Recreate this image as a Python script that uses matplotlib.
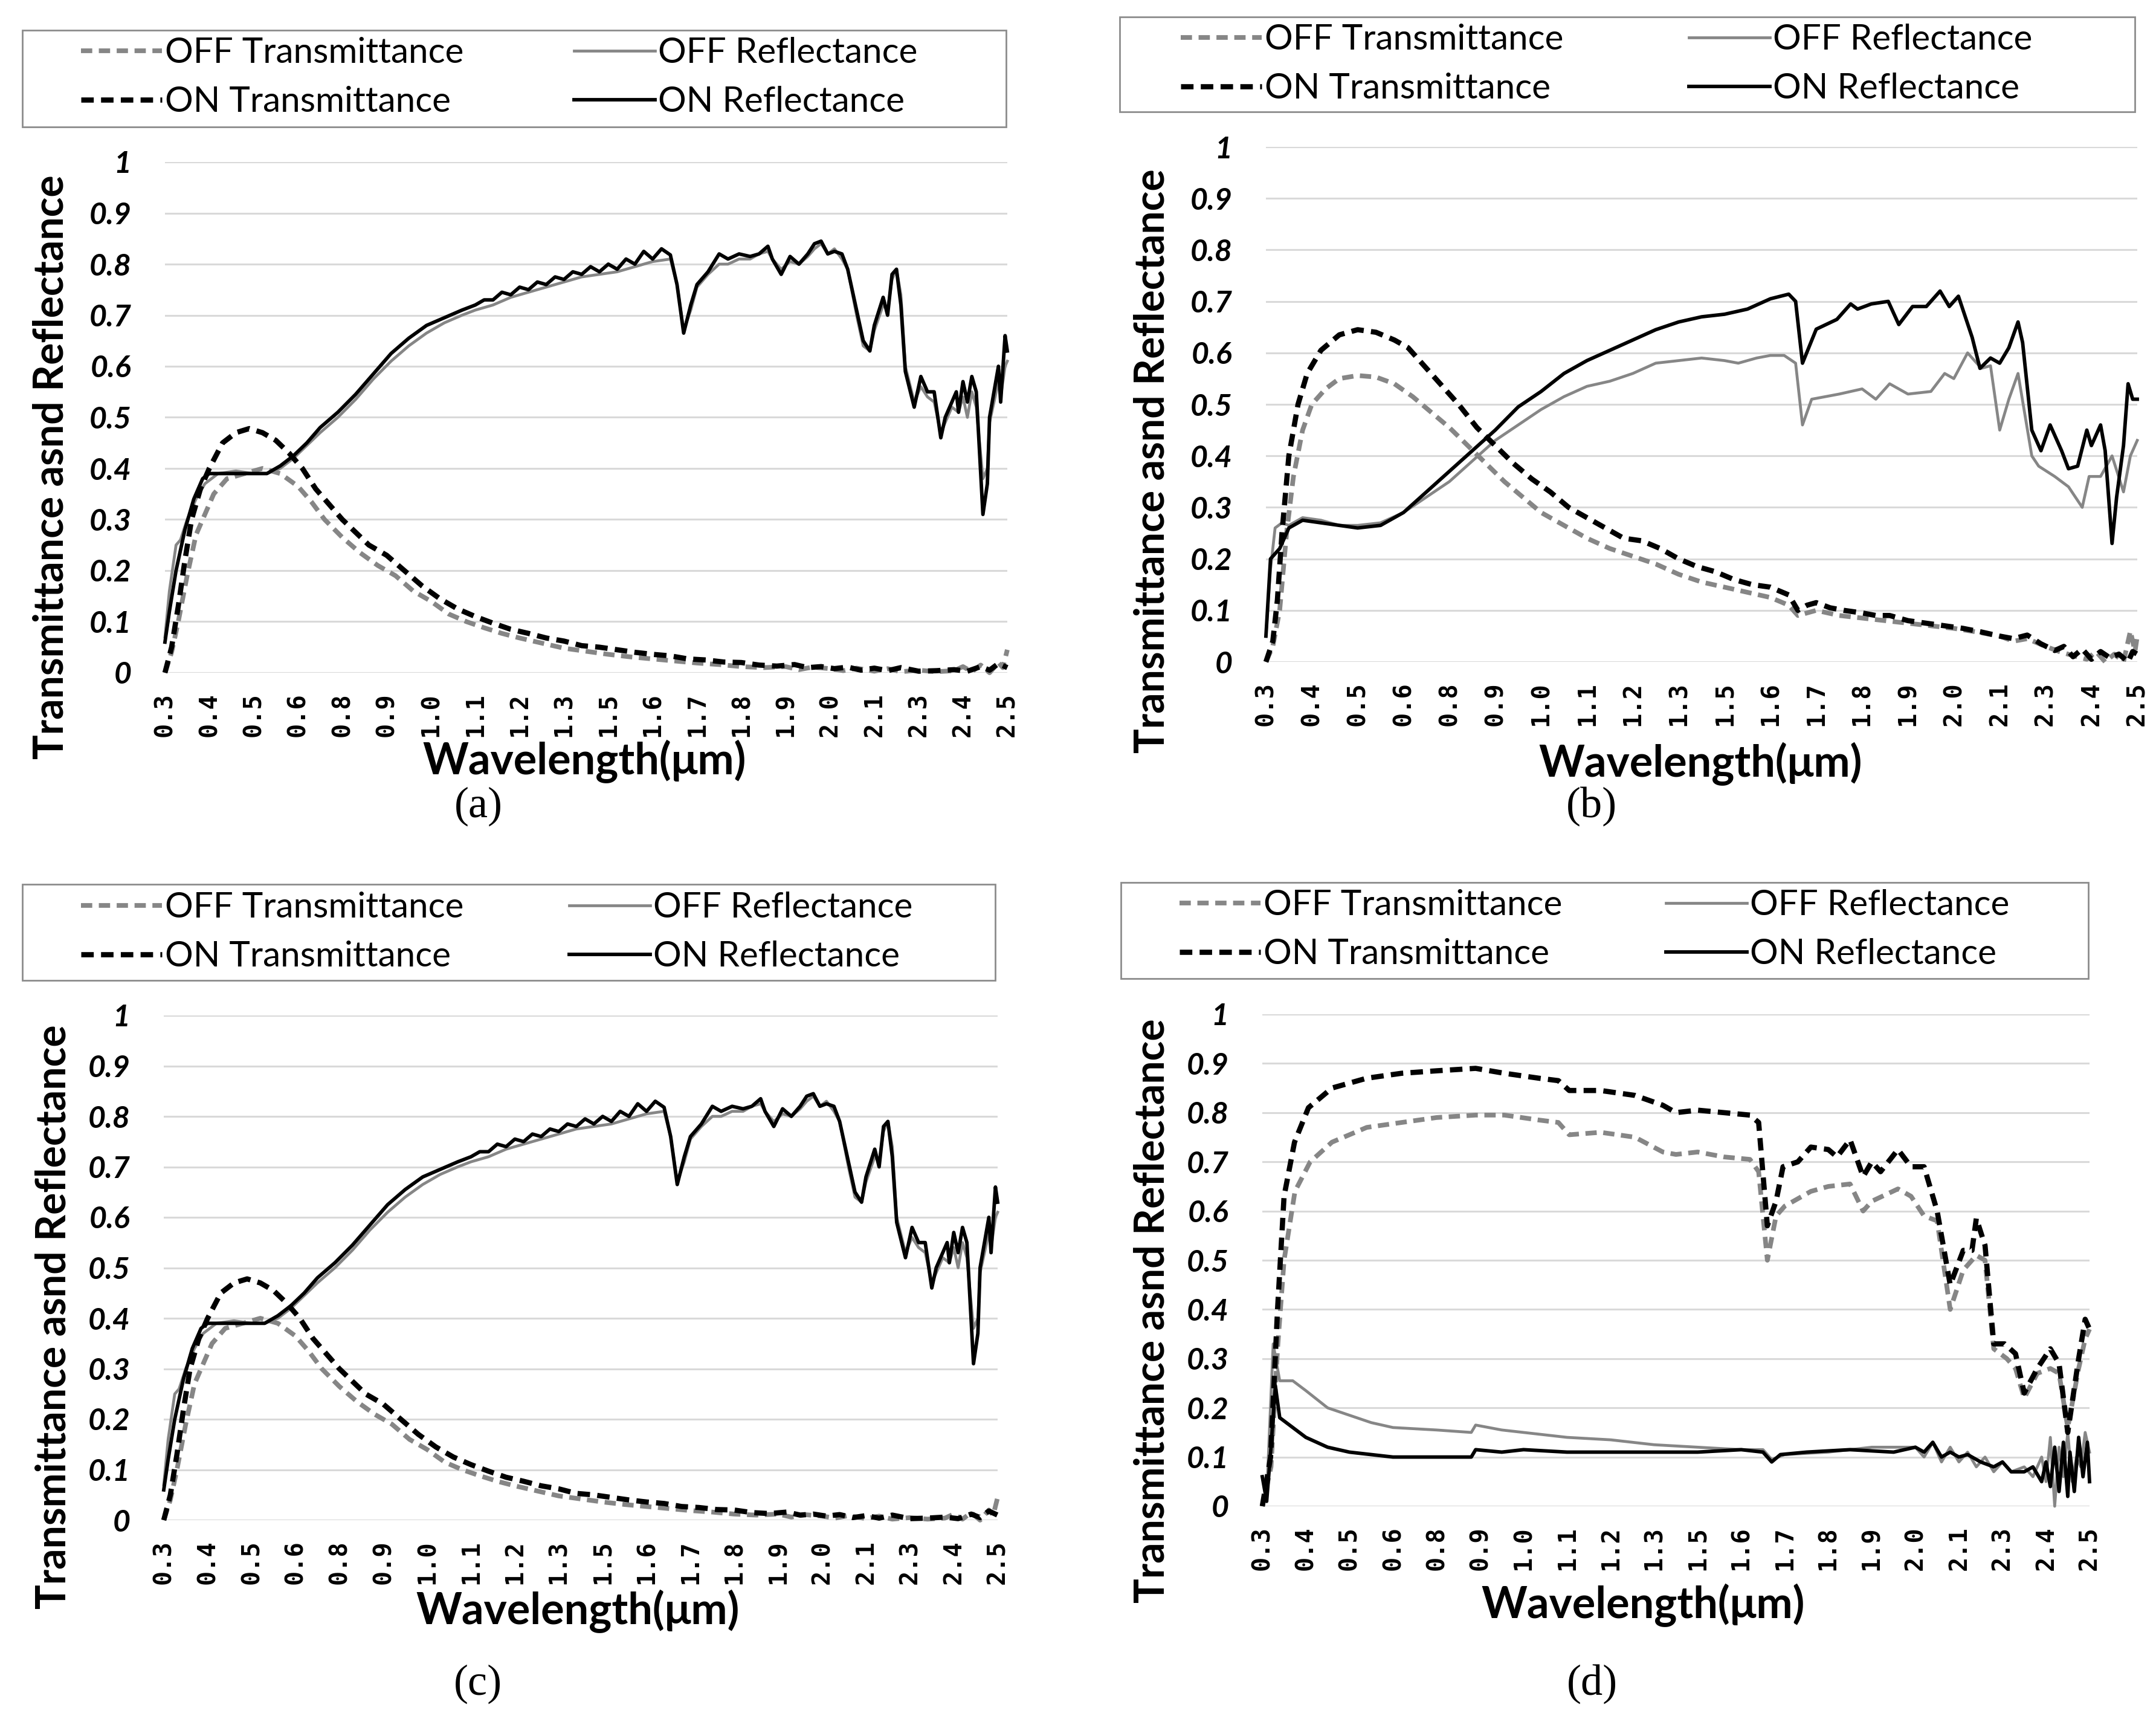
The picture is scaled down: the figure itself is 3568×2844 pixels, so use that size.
import numpy as np
import matplotlib.pyplot as plt
from matplotlib.patches import Rectangle

W, H = 3568, 2844

# category axis (Excel style): labels sit at equally spaced positions 0..19
x_labels = ['0.3', '0.4', '0.5', '0.6', '0.8', '0.9', '1.0', '1.1', '1.2', '1.3',
            '1.5', '1.6', '1.7', '1.8', '1.9', '2.0', '2.1', '2.3', '2.4', '2.5']
y_ticks = [0, 0.1, 0.2, 0.3, 0.4, 0.5, 0.6, 0.7, 0.8, 0.9, 1]
y_labels = ['0', '0.1', '0.2', '0.3', '0.4', '0.5', '0.6', '0.7', '0.8', '0.9', '1']
series_names = ['OFF Transmittance', 'OFF Reflectance', 'ON Transmittance', 'ON Reflectance']

# panel (a) / (c): (position on category axis, value)
a_off_t = [(0, 0.0), (0.15, 0.04), (0.3, 0.10), (0.5, 0.19), (0.7, 0.27), (0.9, 0.31), (1.1, 0.35),
           (1.4, 0.38), (1.8, 0.39), (2.2, 0.40), (2.6, 0.39), (3.0, 0.365), (3.3, 0.335), (3.6, 0.30),
           (4.0, 0.265), (4.4, 0.235), (4.8, 0.21), (5.2, 0.19), (5.6, 0.16), (6.0, 0.14), (6.4, 0.115),
           (6.8, 0.10), (7.2, 0.088), (7.6, 0.077), (8.0, 0.068), (8.5, 0.058), (9.0, 0.048),
           (9.5, 0.042), (10.0, 0.036), (10.5, 0.031), (11.0, 0.027), (11.5, 0.023), (12.0, 0.019),
           (12.5, 0.016), (13.0, 0.012), (13.5, 0.01), (14.0, 0.012), (14.3, 0.006), (14.6, 0.011),
           (15.0, 0.008), (15.3, 0.004), (15.6, 0.009), (16.0, 0.003), (16.3, 0.008), (16.6, 0.002),
           (17.0, 0.005), (17.4, 0.002), (17.8, 0.004), (18.0, 0.012), (18.2, 0.002), (18.4, 0.015),
           (18.6, 0.0), (18.8, 0.02), (18.9, 0.01), (19.0, 0.045)]
a_on_t = [(0, 0.0), (0.15, 0.05), (0.3, 0.13), (0.45, 0.22), (0.6, 0.30), (0.8, 0.36), (1.0, 0.40),
          (1.3, 0.45), (1.6, 0.47), (1.9, 0.478), (2.2, 0.47), (2.5, 0.455), (2.8, 0.43), (3.1, 0.40),
          (3.4, 0.36), (3.7, 0.33), (4.0, 0.30), (4.3, 0.275), (4.6, 0.25), (5.0, 0.23), (5.4, 0.20),
          (5.8, 0.17), (6.2, 0.145), (6.6, 0.125), (7.0, 0.11), (7.4, 0.097), (7.8, 0.085),
          (8.2, 0.077), (8.6, 0.068), (9.0, 0.062), (9.4, 0.053), (9.8, 0.05), (10.2, 0.045),
          (10.6, 0.04), (11.0, 0.036), (11.4, 0.033), (11.8, 0.027), (12.2, 0.025), (12.6, 0.021),
          (13.0, 0.02), (13.4, 0.015), (13.8, 0.013), (14.2, 0.016), (14.5, 0.01), (14.8, 0.012),
          (15.1, 0.008), (15.4, 0.011), (15.7, 0.005), (16.0, 0.009), (16.3, 0.004), (16.6, 0.01),
          (17.0, 0.003), (17.4, 0.004), (17.8, 0.006), (18.1, 0.003), (18.4, 0.012), (18.6, 0.005),
          (18.8, 0.018), (19.0, 0.01)]
a_off_r = [(0, 0.07), (0.1, 0.16), (0.25, 0.25), (0.35, 0.26), (0.5, 0.30), (0.7, 0.34), (0.9, 0.37),
           (1.2, 0.39), (1.6, 0.395), (2.0, 0.39), (2.3, 0.39), (2.6, 0.40), (2.9, 0.42), (3.2, 0.445),
           (3.5, 0.47), (3.9, 0.50), (4.3, 0.535), (4.7, 0.575), (5.1, 0.61), (5.5, 0.64), (5.9, 0.665),
           (6.3, 0.685), (6.7, 0.70), (7.0, 0.71), (7.4, 0.72), (7.8, 0.735), (8.2, 0.745), (8.6, 0.755),
           (9.0, 0.765), (9.4, 0.775), (9.8, 0.78), (10.2, 0.785), (10.6, 0.795), (11.0, 0.805),
           (11.4, 0.81), (11.55, 0.76), (11.7, 0.67), (11.86, 0.71), (12.0, 0.755), (12.25, 0.78),
           (12.5, 0.80), (12.7, 0.80), (12.95, 0.81), (13.2, 0.81), (13.4, 0.82), (13.6, 0.825),
           (13.7, 0.81), (13.9, 0.79), (14.1, 0.805), (14.3, 0.80), (14.5, 0.815), (14.65, 0.83),
           (14.8, 0.84), (14.95, 0.82), (15.1, 0.83), (15.27, 0.81), (15.4, 0.79), (15.6, 0.70),
           (15.75, 0.64), (15.9, 0.63), (16.0, 0.67), (16.2, 0.72), (16.3, 0.71), (16.4, 0.77),
           (16.5, 0.79), (16.6, 0.74), (16.7, 0.60), (16.9, 0.53), (17.05, 0.56), (17.2, 0.54),
           (17.35, 0.53), (17.5, 0.47), (17.6, 0.49), (17.75, 0.52), (17.9, 0.51), (18.0, 0.54),
           (18.1, 0.50), (18.2, 0.55), (18.3, 0.52), (18.45, 0.38), (18.55, 0.40), (18.6, 0.49),
           (18.8, 0.57), (18.85, 0.54), (18.95, 0.60), (19.0, 0.61)]
a_on_r = [(0, 0.06), (0.1, 0.12), (0.25, 0.20), (0.45, 0.28), (0.65, 0.34), (0.85, 0.38), (1.0, 0.39),
          (1.5, 0.39), (2.0, 0.39), (2.3, 0.39), (2.6, 0.405), (2.9, 0.425), (3.2, 0.45), (3.5, 0.48),
          (3.9, 0.51), (4.3, 0.545), (4.7, 0.585), (5.1, 0.625), (5.5, 0.655), (5.9, 0.68), (6.3, 0.695),
          (6.7, 0.71), (7.0, 0.72), (7.2, 0.73), (7.4, 0.73), (7.6, 0.745), (7.8, 0.74), (8.0, 0.755),
          (8.2, 0.75), (8.4, 0.765), (8.6, 0.76), (8.8, 0.775), (9.0, 0.77), (9.2, 0.785), (9.4, 0.78),
          (9.6, 0.795), (9.8, 0.785), (10.0, 0.80), (10.2, 0.79), (10.4, 0.81), (10.6, 0.80),
          (10.8, 0.825), (11.0, 0.81), (11.2, 0.83), (11.4, 0.818), (11.55, 0.76), (11.7, 0.665),
          (11.86, 0.72), (12.0, 0.76), (12.25, 0.785), (12.5, 0.82), (12.7, 0.81), (12.95, 0.82),
          (13.2, 0.815), (13.4, 0.82), (13.6, 0.835), (13.7, 0.81), (13.9, 0.78), (14.1, 0.815),
          (14.3, 0.80), (14.5, 0.82), (14.65, 0.84), (14.8, 0.845), (14.95, 0.82), (15.1, 0.825),
          (15.27, 0.82), (15.4, 0.79), (15.6, 0.71), (15.75, 0.65), (15.9, 0.63), (16.0, 0.68),
          (16.2, 0.735), (16.3, 0.70), (16.4, 0.78), (16.5, 0.79), (16.6, 0.72), (16.7, 0.59),
          (16.9, 0.52), (17.05, 0.58), (17.2, 0.55), (17.35, 0.55), (17.5, 0.46), (17.6, 0.50),
          (17.75, 0.53), (17.85, 0.55), (17.9, 0.51), (18.0, 0.57), (18.1, 0.53), (18.2, 0.58),
          (18.3, 0.55), (18.45, 0.31), (18.55, 0.37), (18.6, 0.50), (18.8, 0.60), (18.85, 0.53),
          (18.95, 0.66), (19.0, 0.63)]

# panel (b)
b_off_t = [(0, 0.0), (0.15, 0.03), (0.3, 0.10), (0.45, 0.25), (0.6, 0.36), (0.8, 0.45), (1.0, 0.50),
           (1.3, 0.53), (1.6, 0.55), (2.0, 0.556), (2.4, 0.553), (2.8, 0.54), (3.2, 0.515), (3.6, 0.485),
           (4.0, 0.455), (4.4, 0.42), (4.8, 0.385), (5.2, 0.35), (5.6, 0.32), (6.0, 0.29), (6.5, 0.265),
           (7.0, 0.24), (7.5, 0.22), (8.0, 0.205), (8.5, 0.19), (9.0, 0.17), (9.5, 0.155), (10.0, 0.145),
           (10.5, 0.135), (11.0, 0.125), (11.4, 0.11), (11.6, 0.09), (11.8, 0.095), (12.0, 0.10),
           (12.5, 0.09), (13.0, 0.085), (13.5, 0.08), (14.0, 0.075), (14.5, 0.07), (15.0, 0.065),
           (15.5, 0.058), (16.0, 0.05), (16.3, 0.04), (16.6, 0.045), (17.0, 0.03), (17.3, 0.02),
           (17.6, 0.012), (17.9, 0.005), (18.1, 0.02), (18.3, 0.0), (18.5, 0.015), (18.7, 0.0),
           (18.85, 0.06), (18.95, 0.02), (19.0, 0.05)]
b_on_t = [(0, 0.0), (0.15, 0.04), (0.25, 0.12), (0.35, 0.25), (0.5, 0.40), (0.7, 0.50), (0.9, 0.56),
          (1.2, 0.605), (1.6, 0.635), (2.0, 0.645), (2.4, 0.64), (2.8, 0.625), (3.1, 0.61), (3.4, 0.58),
          (3.8, 0.54), (4.2, 0.50), (4.6, 0.455), (5.0, 0.42), (5.4, 0.385), (5.8, 0.355), (6.2, 0.33),
          (6.6, 0.30), (7.0, 0.28), (7.4, 0.26), (7.8, 0.24), (8.2, 0.235), (8.6, 0.22), (9.0, 0.20),
          (9.4, 0.185), (9.8, 0.175), (10.2, 0.16), (10.6, 0.15), (11.0, 0.145), (11.4, 0.13),
          (11.6, 0.10), (11.8, 0.11), (12.0, 0.115), (12.3, 0.105), (12.6, 0.10), (13.0, 0.095),
          (13.3, 0.09), (13.6, 0.09), (14.0, 0.08), (14.4, 0.075), (14.8, 0.07), (15.2, 0.065),
          (15.6, 0.058), (16.0, 0.05), (16.3, 0.045), (16.6, 0.052), (16.9, 0.035), (17.2, 0.022),
          (17.4, 0.03), (17.6, 0.01), (17.8, 0.025), (18.0, 0.005), (18.2, 0.02), (18.4, 0.008),
          (18.6, 0.015), (18.8, 0.0), (18.9, 0.02), (19.0, 0.015)]
b_off_r = [(0, 0.05), (0.1, 0.18), (0.2, 0.26), (0.35, 0.27), (0.5, 0.265), (0.8, 0.28), (1.2, 0.275),
           (1.6, 0.265), (2.0, 0.265), (2.5, 0.27), (3.0, 0.29), (3.5, 0.32), (4.0, 0.35), (4.5, 0.39),
           (5.0, 0.43), (5.5, 0.46), (6.0, 0.49), (6.5, 0.515), (7.0, 0.535), (7.5, 0.545), (8.0, 0.56),
           (8.5, 0.58), (9.0, 0.585), (9.5, 0.59), (10.0, 0.585), (10.3, 0.58), (10.7, 0.59),
           (11.0, 0.595), (11.3, 0.595), (11.55, 0.58), (11.7, 0.46), (11.9, 0.51), (12.5, 0.52),
           (13.0, 0.53), (13.3, 0.51), (13.6, 0.54), (14.0, 0.52), (14.5, 0.525), (14.8, 0.56),
           (15.0, 0.55), (15.3, 0.60), (15.6, 0.57), (15.8, 0.575), (16.0, 0.45), (16.2, 0.51),
           (16.4, 0.56), (16.7, 0.40), (16.85, 0.38), (17.2, 0.36), (17.5, 0.34), (17.8, 0.30),
           (17.95, 0.36), (18.2, 0.36), (18.45, 0.40), (18.7, 0.33), (18.85, 0.40), (19.0, 0.43)]
b_on_r = [(0, 0.05), (0.1, 0.20), (0.3, 0.22), (0.5, 0.26), (0.8, 0.275), (1.2, 0.27), (1.6, 0.265),
          (2.0, 0.26), (2.5, 0.265), (3.0, 0.29), (3.5, 0.33), (4.0, 0.37), (4.5, 0.41), (5.0, 0.45),
          (5.5, 0.495), (6.0, 0.525), (6.5, 0.56), (7.0, 0.585), (7.5, 0.605), (8.0, 0.625),
          (8.5, 0.645), (9.0, 0.66), (9.5, 0.67), (10.0, 0.675), (10.5, 0.685), (11.0, 0.705),
          (11.4, 0.714), (11.55, 0.70), (11.7, 0.58), (12.0, 0.646), (12.45, 0.665), (12.75, 0.695),
          (12.9, 0.685), (13.2, 0.695), (13.57, 0.70), (13.8, 0.655), (14.1, 0.69), (14.4, 0.69),
          (14.7, 0.72), (14.9, 0.69), (15.1, 0.71), (15.4, 0.63), (15.57, 0.57), (15.8, 0.59),
          (16.0, 0.58), (16.2, 0.61), (16.4, 0.66), (16.5, 0.62), (16.7, 0.45), (16.9, 0.41),
          (17.1, 0.46), (17.35, 0.41), (17.5, 0.375), (17.7, 0.38), (17.9, 0.45), (18.0, 0.42),
          (18.2, 0.46), (18.3, 0.41), (18.45, 0.23), (18.55, 0.32), (18.7, 0.42), (18.8, 0.54),
          (18.9, 0.51), (19.0, 0.51)]

# panel (d)
d_off_t = [(0, 0.0), (0.2, 0.08), (0.35, 0.32), (0.5, 0.50), (0.75, 0.64), (1.1, 0.70), (1.6, 0.74),
           (2.4, 0.77), (3.2, 0.78), (4.0, 0.79), (4.9, 0.795), (5.56, 0.795), (6.35, 0.785), (6.8, 0.78),
           (7.05, 0.755), (7.77, 0.76), (8.56, 0.75), (9.2, 0.72), (9.5, 0.715), (10.0, 0.72),
           (10.6, 0.71), (11.2, 0.705), (11.4, 0.68), (11.6, 0.50), (11.8, 0.59), (12.0, 0.61),
           (12.6, 0.64), (13.0, 0.65), (13.5, 0.655), (13.8, 0.60), (14.0, 0.62), (14.6, 0.645),
           (14.9, 0.63), (15.2, 0.59), (15.5, 0.58), (15.8, 0.40), (16.1, 0.48), (16.4, 0.51),
           (16.6, 0.50), (16.8, 0.32), (17.1, 0.30), (17.3, 0.28), (17.5, 0.22), (17.8, 0.27),
           (18.1, 0.28), (18.3, 0.27), (18.5, 0.16), (18.75, 0.28), (18.9, 0.34), (19.0, 0.36)]
d_on_t = [(0, 0.0), (0.19, 0.10), (0.35, 0.40), (0.5, 0.63), (0.74, 0.74), (1.06, 0.81), (1.6, 0.85),
          (2.4, 0.87), (3.2, 0.88), (4.0, 0.885), (4.9, 0.89), (5.56, 0.88), (6.35, 0.87), (6.8, 0.865),
          (7.05, 0.845), (7.77, 0.845), (8.56, 0.835), (9.2, 0.815), (9.5, 0.80), (10.0, 0.805),
          (10.6, 0.80), (11.2, 0.795), (11.4, 0.78), (11.6, 0.57), (11.8, 0.62), (11.96, 0.69),
          (12.3, 0.70), (12.6, 0.73), (13.0, 0.725), (13.2, 0.71), (13.5, 0.745), (13.8, 0.67),
          (14.0, 0.70), (14.2, 0.68), (14.6, 0.725), (14.9, 0.69), (15.2, 0.69), (15.5, 0.60),
          (15.8, 0.45), (16.1, 0.52), (16.3, 0.52), (16.4, 0.585), (16.6, 0.53), (16.8, 0.33),
          (17.05, 0.33), (17.3, 0.31), (17.5, 0.23), (17.8, 0.28), (18.1, 0.32), (18.3, 0.29),
          (18.5, 0.15), (18.75, 0.30), (18.9, 0.38), (19.0, 0.36)]
d_off_r = [(0, 0.06), (0.1, 0.02), (0.25, 0.33), (0.4, 0.255), (0.7, 0.255), (1.0, 0.235), (1.5, 0.20),
           (2.0, 0.185), (2.5, 0.17), (3.0, 0.16), (4.0, 0.155), (4.8, 0.15), (4.9, 0.165), (5.5, 0.155),
           (6.0, 0.15), (7.0, 0.14), (8.0, 0.135), (9.0, 0.125), (10.0, 0.12), (11.0, 0.115),
           (11.5, 0.115), (11.7, 0.095), (12.0, 0.105), (13.0, 0.11), (14.0, 0.12), (15.0, 0.12),
           (15.2, 0.10), (15.4, 0.13), (15.6, 0.09), (15.8, 0.12), (16.0, 0.09), (16.2, 0.11),
           (16.4, 0.08), (16.6, 0.10), (16.8, 0.07), (17.0, 0.09), (17.2, 0.07), (17.5, 0.08),
           (17.7, 0.06), (17.9, 0.10), (18.0, 0.05), (18.1, 0.14), (18.2, 0.0), (18.3, 0.12),
           (18.4, 0.06), (18.5, 0.15), (18.6, 0.05), (18.7, 0.10), (18.8, 0.08), (18.9, 0.15),
           (19.0, 0.11)]
d_on_r = [(0, 0.06), (0.1, 0.01), (0.2, 0.12), (0.3, 0.245), (0.4, 0.18), (0.7, 0.16), (1.0, 0.14),
          (1.5, 0.12), (2.0, 0.11), (2.5, 0.105), (3.0, 0.10), (4.0, 0.10), (4.8, 0.10), (4.9, 0.115),
          (5.5, 0.11), (6.0, 0.115), (7.0, 0.11), (8.0, 0.11), (9.0, 0.11), (10.0, 0.11), (11.0, 0.115),
          (11.5, 0.11), (11.7, 0.09), (11.9, 0.105), (12.5, 0.11), (13.5, 0.115), (14.5, 0.11),
          (15.0, 0.12), (15.2, 0.11), (15.4, 0.13), (15.6, 0.10), (15.8, 0.11), (16.0, 0.10),
          (16.2, 0.105), (16.5, 0.09), (16.8, 0.08), (17.0, 0.09), (17.2, 0.07), (17.5, 0.07),
          (17.7, 0.08), (17.9, 0.05), (18.0, 0.09), (18.1, 0.04), (18.2, 0.12), (18.3, 0.03),
          (18.4, 0.13), (18.5, 0.02), (18.55, 0.11), (18.65, 0.03), (18.75, 0.14), (18.85, 0.06),
          (18.95, 0.13), (19.0, 0.05)]

GRAY = '#868686'
styles = [
    dict(color=GRAY, lw=2.8, ls=(0, (2.4, 1.4))),     # OFF Transmittance
    dict(color=GRAY, lw=1.7, ls='-'),                 # OFF Reflectance
    dict(color='black', lw=3.1, ls=(0, (2.4, 1.4))),  # ON Transmittance
    dict(color='black', lw=2.1, ls='-'),              # ON Reflectance
]

# layout in reference pixels
panels = [
    dict(ax=(273, 268, 1667, 1113), box=(37, 50, 1665, 210), cols=(134, 950), rowmid=128,
         ylab=(85, 773), xlab=(967, 1260), tag=(792, 1334), name='(a)',
         data=(a_off_t, a_off_r, a_on_t, a_on_r)),
    dict(ax=(2095, 243, 3537, 1095), box=(1853, 28, 3533, 185), cols=(1954, 2795), rowmid=106,
         ylab=(1907, 763), xlab=(2814, 1264), tag=(2634, 1334), name='(b)',
         data=(b_off_t, b_off_r, b_on_t, b_on_r)),
    dict(ax=(271, 1680, 1651, 2515), box=(37, 1463, 1647, 1622), cols=(134, 942), rowmid=1542,
         ylab=(89, 2179), xlab=(956, 2666), tag=(791, 2786), name='(c)',
         data=(a_off_t, a_off_r, a_on_t, a_on_r)),
    dict(ax=(2089, 1678, 3458, 2492), box=(1855, 1460, 3456, 1619), cols=(1952, 2757), rowmid=1538,
         ylab=(1907, 2169), xlab=(2719, 2656), tag=(2635, 2786), name='(d)',
         data=(d_off_t, d_off_r, d_on_t, d_on_r)),
]


def fx(px):
    return px / W


def fy(py):
    return 1 - py / H


fig = plt.figure(figsize=(W / 200, H / 200), dpi=200)

for p in panels:
    x0, y0, x1, y1 = p['ax']
    ax = fig.add_axes([fx(x0), fy(y1), fx(x1) - fx(x0), fy(y0) - fy(y1)])
    lines = []
    for name, pts, st in zip(series_names, p['data'], styles):
        arr = np.array(pts)
        ln, = ax.plot(arr[:, 0], arr[:, 1], label=name, clip_on=False, **st)
        lines.append(ln)
    ax.set_xlim(0, len(x_labels) - 1)
    ax.set_ylim(0, 1)
    ax.set_xticks(np.arange(len(x_labels)))
    ax.set_xticklabels(x_labels, rotation=90, family='DejaVu Sans Mono',
                       fontweight='bold', fontsize=14.5)
    ax.set_yticks(y_ticks)
    ax.set_yticklabels(y_labels, family='Lato', fontweight='bold', fontstyle='italic', fontsize=18)
    ax.tick_params(axis='both', length=0)
    ax.tick_params(axis='y', pad=20)
    ax.tick_params(axis='x', pad=12)
    ax.grid(axis='y', color='#d9d9d9', lw=1.1)
    ax.set_axisbelow(True)
    for s in ax.spines.values():
        s.set_visible(False)

    # legend: framed box with two columns
    bx0, by0, bx1, by1 = p['box']
    fig.add_artist(Rectangle((fx(bx0), fy(by1)), fx(bx1) - fx(bx0), fy(by0) - fy(by1),
                             transform=fig.transFigure, fill=False, edgecolor='#8c8c8c', lw=1.0))
    for col, hs in zip(p['cols'], [[lines[0], lines[2]], [lines[1], lines[3]]]):
        fig.legend(handles=hs, loc='center left', bbox_to_anchor=(fx(col), fy(p['rowmid'])),
                   bbox_transform=fig.transFigure, frameon=False, borderpad=0, borderaxespad=0,
                   handlelength=2.3, handletextpad=0.08, labelspacing=0.48,
                   prop=dict(family='Lato', size=21))

    fig.text(fx(p['ylab'][0]), fy(p['ylab'][1]), 'Transmittance asnd Reflectance', rotation=90,
             ha='center', va='center', family='Lato', fontweight='bold', fontsize=24.5)
    fig.text(fx(p['xlab'][0]), fy(p['xlab'][1]), 'Wavelength(μm)', ha='center', va='center',
             family='Lato', fontweight='bold', fontsize=26)
    fig.text(fx(p['tag'][0]), fy(p['tag'][1]), p['name'], ha='center', va='center',
             family='Liberation Serif', fontsize=26)

fig.savefig('out.png', dpi=200, facecolor='white')
